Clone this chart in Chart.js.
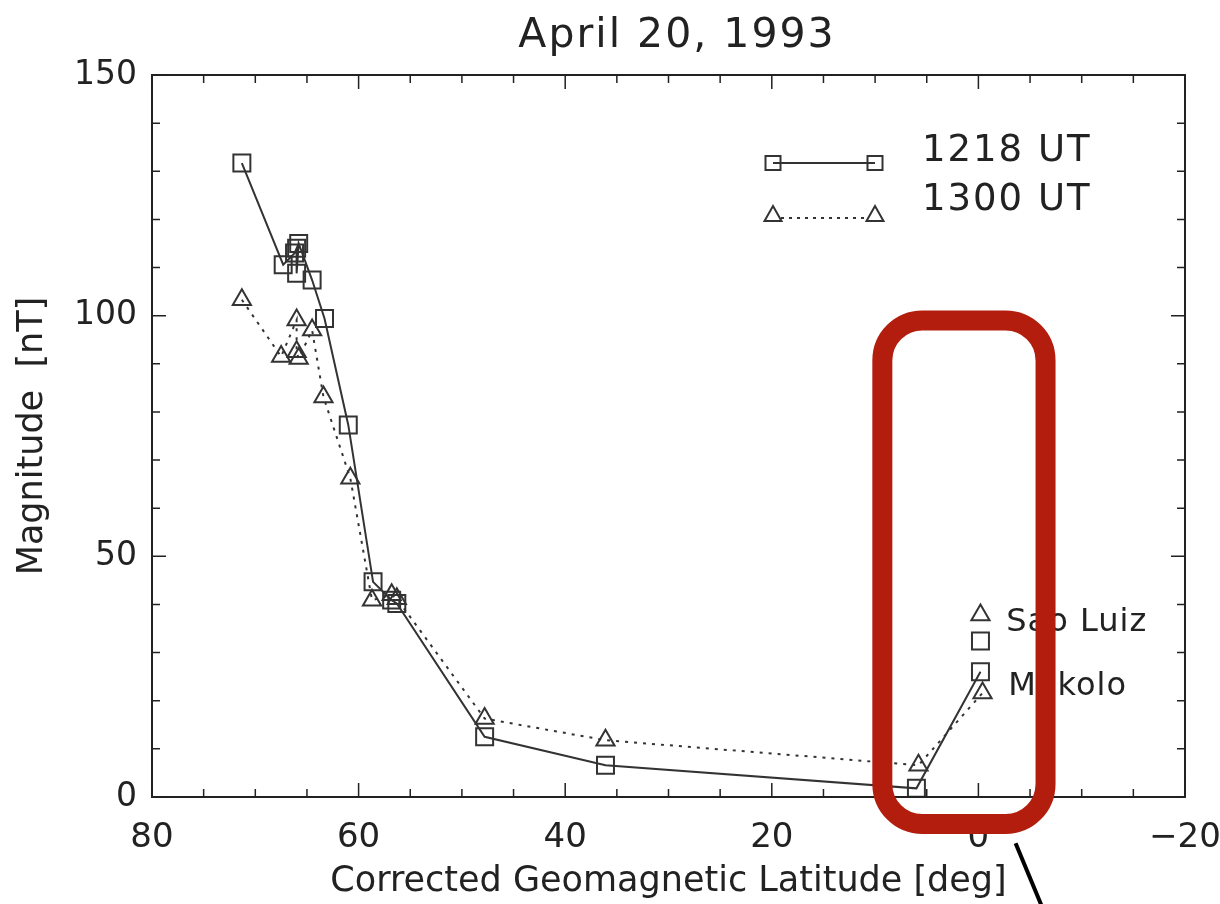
<!DOCTYPE html>
<html>
<head>
<meta charset="utf-8">
<script src="https://cdn.jsdelivr.net/npm/chart.js@4"></script>
<style>
  html, body { margin: 0; padding: 0; background: #fff; }
  canvas { display: block; }
</style>
</head>
<body>
<canvas id="chart" width="1220" height="904"></canvas>
<script>
// Дані
const titleText = "April 20, 1993";
const xTitle = "Corrected Geomagnetic Latitude [deg]";
const yTitle = "Magnitude  [nT]";

const xTicks = [80, 60, 40, 20, 0, -20];
const yTicks = [0, 50, 100, 150];

// 1218 UT (квадрати, суцільна лінія)
const lat1218 = [71.3, 67.3, 66.2, 66.0, 66.0, 65.8, 64.5, 63.3, 61.0, 58.6, 56.8, 56.3, 47.8, 36.1, 6.0, -0.2];
const mag1218 = [131.7, 110.6, 113.0, 114.0, 108.8, 115.0, 107.4, 99.4, 77.3, 44.7, 40.9, 40.2, 12.5, 6.6, 1.8, 26.0];

// 1300 UT (трикутники, пунктир)
const lat1300 = [71.3, 67.5, 66.0, 66.0, 65.8, 64.5, 63.4, 60.8, 58.7, 56.8, 56.3, 47.8, 36.1, 5.8, -0.4];
const mag1300 = [103.3, 91.5, 99.1, 92.5, 91.1, 97.0, 83.1, 66.2, 40.9, 42.0, 41.2, 16.3, 11.8, 6.6, 21.6];

// Окремі точки станції Sao Luiz
const saoLuizLat = [-0.2];
const saoLuiz1218 = [32.4];
const saoLuiz1300 = [37.8];

// Підписи станцій
const stationNames = ["Sao Luiz", "Mokolo"];
const stationLabelLat = [-2.7, -2.9];
const stationLabelMag = [36.3, 23.0];

// Виділення (червона рамка) та стрілка, у координатах даних
const boxLat = [9.3, -6.5];
const boxMag = [99.0, -5.6];
const arrowLat = [-3.6, -6.1];
const arrowMag = [-9.6, -22.5];

const FONT = "'DejaVu Sans', sans-serif";
const INK = "#222";

function pts(xs, ys) {
  return xs.map((x, i) => ({ x: x, y: ys[i] }));
}

const decorPlugin = {
  id: "decor",
  afterDraw(chart) {
    const ctx = chart.ctx;
    const area = chart.chartArea;
    const xs = chart.scales.x;
    const ys = chart.scales.y;
    ctx.save();

    // Рамка графіка
    ctx.strokeStyle = INK;
    ctx.lineWidth = 2;
    ctx.strokeRect(area.left, area.top, area.right - area.left, area.bottom - area.top);

    // Внутрішні поділки
    ctx.lineWidth = 1.5;
    ctx.beginPath();
    for (let v = -20; v <= 80; v += 5) {
      const px = xs.getPixelForValue(v);
      const len = v % 20 === 0 ? 14 : 8;
      ctx.moveTo(px, area.bottom);
      ctx.lineTo(px, area.bottom - len);
      ctx.moveTo(px, area.top);
      ctx.lineTo(px, area.top + len);
    }
    for (let v = 0; v <= 150; v += 10) {
      const py = ys.getPixelForValue(v);
      const len = v % 50 === 0 ? 14 : 8;
      ctx.moveTo(area.left, py);
      ctx.lineTo(area.left + len, py);
      ctx.moveTo(area.right, py);
      ctx.lineTo(area.right - len, py);
    }
    ctx.stroke();

    // Заголовок
    ctx.fillStyle = INK;
    ctx.font = "41px " + FONT;
    ctx.letterSpacing = "2px";
    ctx.textAlign = "center";
    ctx.textBaseline = "alphabetic";
    ctx.fillText(titleText, 677, 47);

    // Легенда
    ctx.font = "37px " + FONT;
    ctx.textAlign = "left";
    ctx.letterSpacing = "2px";
    ctx.fillText("1218 UT", 922, 161);
    ctx.fillText("1300 UT", 922, 210);
    ctx.letterSpacing = "0px";

    ctx.strokeStyle = "#333";
    ctx.lineWidth = 2;
    ctx.beginPath();
    ctx.moveTo(773, 163);
    ctx.lineTo(875, 163);
    ctx.stroke();
    [773, 875].forEach((cx) => ctx.strokeRect(cx - 7.5, 163 - 7, 15, 14));

    ctx.setLineDash([3, 5]);
    ctx.beginPath();
    ctx.moveTo(781, 218);
    ctx.lineTo(867, 218);
    ctx.stroke();
    ctx.setLineDash([]);
    [773, 875].forEach((cx) => {
      ctx.beginPath();
      ctx.moveTo(cx, 206);
      ctx.lineTo(cx + 8.5, 221);
      ctx.lineTo(cx - 8.5, 221);
      ctx.closePath();
      ctx.stroke();
    });

    // Підписи станцій
    ctx.fillStyle = INK;
    ctx.font = "32px " + FONT;
    ctx.textBaseline = "middle";
    ctx.letterSpacing = "1px";
    stationNames.forEach((name, i) => {
      ctx.fillText(name, xs.getPixelForValue(stationLabelLat[i]), ys.getPixelForValue(stationLabelMag[i]));
    });
    ctx.letterSpacing = "0px";

    // Червона рамка
    const bx0 = xs.getPixelForValue(boxLat[0]);
    const bx1 = xs.getPixelForValue(boxLat[1]);
    const by0 = ys.getPixelForValue(boxMag[0]);
    const by1 = ys.getPixelForValue(boxMag[1]);
    ctx.strokeStyle = "#b31d0e";
    ctx.lineWidth = 20;
    ctx.beginPath();
    ctx.roundRect(bx0, by0, bx1 - bx0, by1 - by0, 40);
    ctx.stroke();

    // Чорна стрілка
    ctx.strokeStyle = "#000";
    ctx.lineWidth = 4;
    ctx.beginPath();
    ctx.moveTo(xs.getPixelForValue(arrowLat[0]), ys.getPixelForValue(arrowMag[0]));
    ctx.lineTo(xs.getPixelForValue(arrowLat[1]), ys.getPixelForValue(arrowMag[1]));
    ctx.stroke();

    ctx.restore();
  },
};

const markerBase = {
  pointBackgroundColor: "rgba(0,0,0,0)",
  pointBorderColor: "#333",
  pointBorderWidth: 2,
  pointHoverRadius: 0,
};

new Chart(document.getElementById("chart"), {
  type: "scatter",
  data: {
    datasets: [
      Object.assign({
        label: "1218 UT",
        data: pts(lat1218, mag1218),
        showLine: true,
        borderColor: "#333",
        borderWidth: 2,
        pointStyle: "rect",
        pointRadius: 12,
      }, markerBase),
      Object.assign({
        label: "1300 UT",
        data: pts(lat1300, mag1300),
        showLine: true,
        borderColor: "#333",
        borderWidth: 2,
        borderDash: [3, 6],
        pointStyle: "triangle",
        pointRadius: 10.5,
      }, markerBase),
      Object.assign({
        label: "Sao Luiz 1218",
        data: pts(saoLuizLat, saoLuiz1218),
        showLine: false,
        pointStyle: "rect",
        pointRadius: 12,
      }, markerBase),
      Object.assign({
        label: "Sao Luiz 1300",
        data: pts(saoLuizLat, saoLuiz1300),
        showLine: false,
        pointStyle: "triangle",
        pointRadius: 10.5,
      }, markerBase),
    ],
  },
  options: {
    responsive: false,
    animation: false,
    devicePixelRatio: 1,
    layout: { padding: { top: 75, right: 35, left: 0, bottom: 0 } },
    plugins: {
      legend: { display: false },
      tooltip: { enabled: false },
    },
    scales: {
      x: {
        type: "linear",
        reverse: true,
        min: -20,
        max: 80,
        afterBuildTicks: (s) => { s.ticks = xTicks.map((v) => ({ value: v })); },
        afterFit: (s) => {
          s.height = 107;
          s.paddingLeft = 0;
          s.paddingRight = 0;
        },
        ticks: {
          font: { family: FONT, size: 34 },
          color: INK,
          padding: 21,
          maxRotation: 0,
          autoSkip: false,
          callback: (v) => (v < 0 ? "\u2212" + Math.abs(v) : String(v)),
        },
        grid: { display: false, drawTicks: false },
        border: { display: true, color: INK, width: 2 },
        title: {
          display: true,
          text: xTitle,
          color: INK,
          font: { family: FONT, size: 35 },
          padding: { top: 0, bottom: 1 },
        },
      },
      y: {
        type: "linear",
        min: 0,
        max: 150,
        afterBuildTicks: (s) => { s.ticks = yTicks.map((v) => ({ value: v })); },
        afterFit: (s) => {
          s.width = 152;
          s.paddingTop = 0;
          s.paddingBottom = 0;
        },
        ticks: {
          font: { family: FONT, size: 33 },
          color: INK,
          padding: 15,
          autoSkip: false,
        },
        grid: { display: false, drawTicks: false },
        border: { display: true, color: INK, width: 2 },
        title: {
          display: true,
          text: yTitle,
          color: INK,
          font: { family: FONT, size: 35 },
          padding: { top: 12, bottom: 0 },
        },
      },
    },
  },
  plugins: [decorPlugin],
});
</script>
</body>
</html>
